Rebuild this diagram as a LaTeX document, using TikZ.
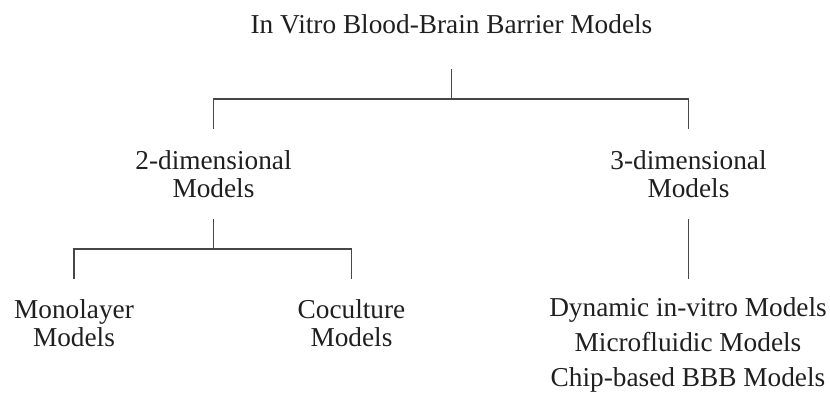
\documentclass[tikz,border=0pt]{standalone}
\usepackage{fontspec}
\setmainfont{Liberation Serif}
\begin{document}
\begin{tikzpicture}[x=0.5pt,y=-0.5pt,
  txt/.style={inner sep=0pt, align=center, anchor=base, text=black!88,
    font=\fontsize{13.65}{13.75}\selectfont},
  listtxt/.style={txt, font=\fontsize{13.65}{17.5}\selectfont},
  conn/.style={line width=0.7pt, draw=black!72}]
\useasboundingbox (0,0) rectangle (830,392);
% nodes (anchor base = baseline of the last line)
\node[txt] (root) at (451.5,33) {In Vitro Blood-Brain Barrier Models};
\node[txt] (d2) at (213.5,197) {2-dimensional\\Models};
\node[txt] (d3) at (688.5,197) {3-dimensional\\Models};
\node[txt] (mono) at (74,346) {Monolayer\\Models};
\node[txt] (cocu) at (351.5,346) {Coculture\\Models};
\node[listtxt] (list) at (688,386) {Dynamic in-vitro Models\\Microfluidic Models\\Chip-based BBB Models};
% junction coordinates
\coordinate (rt) at (451.5,69);
\coordinate (rj) at (451.5,99);
\coordinate (d2t) at (213.5,129);
\coordinate (d3t) at (688.5,129);
\coordinate (d2b) at (213.5,219);
\coordinate (d2j) at (213.5,249);
\coordinate (monot) at (74,279);
\coordinate (cocut) at (351.5,279);
\coordinate (d3b) at (688.5,219);
\coordinate (listt) at (688.5,279);
% connectors
\draw[conn] (rt) -- (rj);
\draw[conn] (d2t) -- (d2t |- rj) -- (d3t |- rj) -- (d3t);
\draw[conn] (d2b) -- (d2j);
\draw[conn] (monot) -- (monot |- d2j) -- (cocut |- d2j) -- (cocut);
\draw[conn] (d3b) -- (listt);
\end{tikzpicture}
\end{document}
